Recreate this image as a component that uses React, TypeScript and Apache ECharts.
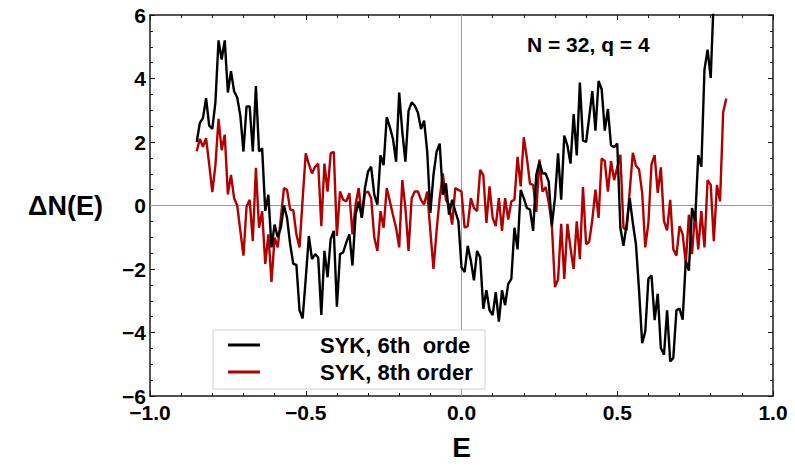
import React, { useEffect, useRef } from "react";
import * as echarts from "echarts";

// Sampling grid of the energy axis
const E_START = -0.85;
const E_STEP = 0.01;

// ΔN(E) for SYK, 6th order (ends where it leaves the top of the frame)
const syk6: number[] = [
  2.0, 2.6, 2.75, 3.38, 2.52, 2.41, 3.25, 5.2, 4.6, 5.2,
  3.56, 4.23, 3.6, 3.4, 2.83, 1.7, 3.12, 3.12, 1.7, 3.76,
  1.7, 1.8, -0.17, 0.34, -1.32, -0.6, -1.0, -0.7, 0.0, -0.39,
  -1.22, -1.84, -1.87, -3.3, -3.56, -2.3, -0.96, -1.69, -1.53, -1.64,
  -3.45, -1.43, -2.26, -1.06, -0.8, -3.19, -1.53, -1.48, -1.17, -0.91,
  -1.89, -0.29, 0.13, -0.39, 0.55, 1.07, 1.22, 0.34, 0.03, 1.58,
  1.27, 2.78, 2.47, 2.1, 1.38, 3.56, 2.31, 1.38, 2.98, 3.25,
  3.14, 2.93, 2.41, 2.67, 1.69, -0.23, 0.96, 1.69, 1.95, 0.34,
  0.7, -0.29, 0.18, -0.18, -0.49, -1.95, -2.1, -1.27, -1.74, -2.36,
  -1.43, -1.64, -3.25, -2.67, -3.3, -3.45, -2.73, -3.66, -2.67, -3.14,
  -2.47, -2.31, -0.7, -1.38, 0.49, 0.23, -0.08, -0.13, -0.8, 0.96,
  1.38, 1.01, 1.01, 0.75, -0.65, 0.23, 1.64, 0.18, 2.2, 1.89,
  1.32, 2.88, 1.58, 3.87, 2.05, 2.0, 2.78, 3.6, 2.36, 3.92,
  3.66, 2.36, 3.04, 1.89, 1.84, 1.95, -0.7, -1.27, -0.6, 0.23,
  -0.55, -1.22, -2.67, -4.34, -3.97, -2.31, -2.2, -3.61, -2.78, -4.49,
  -4.7, -3.3, -4.91, -4.8, -3.3, -3.25, -3.6, -1.74, -2.05, -0.08,
  -0.49, 1.58, 1.22, 4.28, 4.91, 4.02, 6.6,
];

// ΔN(E) for SYK, 8th order
const syk8: number[] = [
  1.71, 2.1, 1.85, 2.12, 1.3, 0.42, 1.27, 2.73, 1.74, 2.23,
  0.35, 0.96, 0.23, 0.0, -0.8, -1.58, -0.03, 0.18, -1.12, 1.19,
  -0.7, -0.18, -1.84, -0.91, -2.41, -1.01, -1.32, -0.4, 0.55, 0.49,
  -0.13, -0.15, -0.91, -1.32, 0.2, 1.64, 1.3, 1.01, 1.22, 1.32,
  -0.65, 1.32, 0.44, 1.64, 1.69, -0.96, 0.44, 0.18, 0.13, 0.39,
  -0.91, 0.03, 0.55, -0.39, 0.39, 0.44, 0.23, -1.01, -1.43, -0.18,
  -0.7, 0.55, 0.13, -0.3, -0.7, -1.32, 0.8, -0.08, -1.43, 0.23,
  0.44, 0.44, 0.18, 0.03, 0.44, -0.8, -2.0, -0.8, 0.23, 1.01,
  0.18, 0.03, -0.6, 0.55, 0.49, 0.44, -0.7, -0.65, 0.23, -0.08,
  -0.18, 1.12, 0.96, -0.55, 0.6, -0.39, -0.65, 0.23, -0.8, 0.23,
  -0.44, 0.13, 0.18, 1.53, 0.6, 2.15, 1.48, 0.68, 0.65, -0.2,
  1.45, 0.44, 0.58, 0.1, -0.6, -2.57, -2.33, -0.58, -2.31, -0.58,
  -1.35, -2.0, -0.5, -1.69, 0.58, -1.22, -1.14, -0.45, 0.5, -0.39,
  1.48, 1.4, 0.44, 1.4, 0.8, 1.2, 1.6, -0.7, -0.78, 0.45,
  1.66, 1.25, 1.14, 0.4, -1.32, -0.55, 1.3, 1.59, 0.4, 1.2,
  -0.49, -0.78, 0.18, -1.38, -1.58, -0.65, -0.9, -1.82, -0.29, -1.53,
  -0.18, -1.38, -0.18, -1.32, 0.8, 0.65, -1.12, 0.65, 0.13, 2.93,
  3.37,
];

const seriesNames = ["SYK, 6th  order", "SYK, 8th order"];
const seriesColors = ["#000000", "#b00000"];
const titleText = "N = 32, q = 4";
const xName = "E";
const yName = "ΔN(E)";

const FONT = "'Liberation Sans', Arial, Helvetica, sans-serif";

const toPairs = (vals: number[]) =>
  vals.map((v, i) => [Number((E_START + i * E_STEP).toFixed(3)), v]);

const fmt = (v: number, digits: number) => {
  const s = Math.abs(v).toFixed(digits);
  return v < 0 ? "\u2212" + s : s;
};

export default function App() {
  const ref = useRef<HTMLDivElement>(null);

  useEffect(() => {
    if (!ref.current) return;
    const chart = echarts.init(ref.current, undefined, { renderer: "svg" });

    const frameLine = { show: true, lineStyle: { color: "#1a1a1a", width: 1.5 } };
    const tick = { show: true, inside: true, length: 5, lineStyle: { color: "#1a1a1a", width: 1 } };
    const minorX = { show: true, splitNumber: 5, length: 3, lineStyle: { color: "#1a1a1a", width: 1 } };
    const minorY = { show: true, splitNumber: 4, length: 3, lineStyle: { color: "#1a1a1a", width: 1 } };
    const labelStyle = { fontFamily: FONT, fontWeight: "bold" as const, fontSize: 21, color: "#000" };

    const xBase = { type: "value" as const, min: -1, max: 1, interval: 0.5 };
    const yBase = { type: "value" as const, min: -6, max: 6, interval: 2 };

    chart.setOption({
      animation: false,
      backgroundColor: "#ffffff",
      grid: { left: 150, right: 22, top: 15, bottom: 66, containLabel: false },
      title: {
        text: titleText,
        left: 527,
        top: 34,
        padding: 0,
        textStyle: { fontFamily: FONT, fontWeight: "bold", fontSize: 21, color: "#000" },
      },
      legend: {
        data: seriesNames.map((name) => ({ name, icon: "rect" })),
        orient: "vertical",
        left: 213,
        top: 330,
        backgroundColor: "#ffffff",
        borderColor: "#d0d0d0",
        borderWidth: 1,
        borderRadius: 0,
        padding: [2, 9, 4, 15],
        itemWidth: 32,
        itemHeight: 3,
        itemGap: 1,
        selectedMode: false,
        textStyle: {
          fontFamily: FONT,
          fontWeight: "bold",
          fontSize: 22,
          color: "#000",
          lineHeight: 26,
          padding: [0, 0, 0, 55],
          width: 156,
          overflow: "truncate",
          ellipsis: "",
        },
      },
      xAxis: [
        {
          ...xBase,
          position: "bottom",
          name: xName,
          nameLocation: "middle",
          nameGap: 37,
          nameTextStyle: { fontFamily: FONT, fontWeight: "bold", fontSize: 28, color: "#000" },
          axisLine: { ...frameLine, onZero: false },
          axisTick: tick,
          minorTick: minorX,
          splitLine: { show: false },
          axisLabel: { ...labelStyle, margin: 6, formatter: (v: number) => fmt(v, 1) },
        },
        {
          ...xBase,
          position: "top",
          axisLine: { ...frameLine, onZero: false },
          axisTick: tick,
          minorTick: minorX,
          splitLine: { show: false },
          axisLabel: { show: false },
        },
      ],
      yAxis: [
        {
          ...yBase,
          position: "left",
          name: yName,
          nameLocation: "middle",
          nameRotate: 0,
          nameGap: 47,
          nameTextStyle: { fontFamily: FONT, fontWeight: "bold", fontSize: 27, color: "#000" },
          axisLine: { ...frameLine, onZero: false },
          axisTick: tick,
          minorTick: minorY,
          splitLine: { show: false },
          axisLabel: { ...labelStyle, margin: 4, formatter: (v: number) => fmt(v, 0) },
        },
        {
          ...yBase,
          position: "right",
          axisLine: { ...frameLine, onZero: false },
          axisTick: tick,
          minorTick: minorY,
          splitLine: { show: false },
          axisLabel: { show: false },
        },
      ],
      series: [
        {
          name: "zeroH",
          type: "line",
          data: [[-1, 0], [1, 0]],
          symbol: "none",
          silent: true,
          z: 1,
          lineStyle: { color: "#9a9a9a", width: 1 },
        },
        {
          name: "zeroV",
          type: "line",
          data: [[0, -6], [0, 6]],
          symbol: "none",
          silent: true,
          z: 1,
          lineStyle: { color: "#9a9a9a", width: 1 },
        },
        {
          name: seriesNames[0],
          type: "line",
          data: toPairs(syk6),
          symbol: "none",
          clip: true,
          z: 3,
          color: seriesColors[0],
          lineStyle: { color: seriesColors[0], width: 2.4 },
        },
        {
          name: seriesNames[1],
          type: "line",
          data: toPairs(syk8),
          symbol: "none",
          clip: true,
          z: 2,
          color: seriesColors[1],
          lineStyle: { color: seriesColors[1], width: 2.4 },
        },
      ],
    });

    return () => chart.dispose();
  }, []);

  return (
    <div
      ref={ref}
      style={{ position: "absolute", left: 0, top: 0, width: 795, height: 466 }}
    />
  );
}
